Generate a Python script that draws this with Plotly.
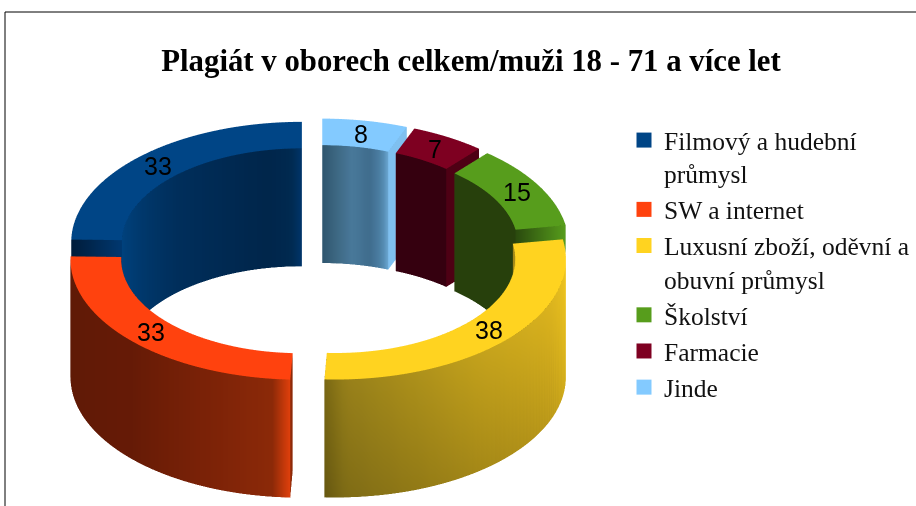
import numpy as np
import plotly.graph_objects as go

TITLE = "Plagiát v oborech celkem/muži 18 - 71 a více let"
CATEGORIES = ["Filmový a hudební<br>průmysl", "SW a internet",
              "Luxusní zboží, oděvní a<br>obuvní průmysl", "Školství", "Farmacie", "Jinde"]
VALUES = [33, 33, 38, 15, 7, 8]
COLORS = ["#004586", "#ff420e", "#ffd320", "#579d1c", "#7e0021", "#83caff"]

# wall shading per slice: (fraction along the slice, colour)
OUTER = [
    [(0, "#00264b"), (1, "#001c3a")],
    [(0, "#5e1a06"), (.5, "#661b06"), (.8, "#7f2408"), (.95, "#8c2a09"), (.985, "#c93a0b"), (1, "#e0400c")],
    [(0, "#7a6814"), (.05, "#97801a"), (.4, "#c4a21c"), (.7, "#dcb41e"), (.9, "#f5ca20"), (1, "#ffd320")],
    [(0, "#3a6a12"), (1, "#3a6a12")],
    [(0, "#4e0014"), (1, "#4e0014")],
    [(0, "#6aa7d2"), (1, "#6aa7d2")],
]
OUTER_FOOT = [1, 1, 0.84, 1, 1, 1]  # how much darker a wall gets at its foot
INNER = [
    [(0, "#00356a"), (.04, "#002a50"), (.12, "#00264b"), (.5, "#002f5c"), (.85, "#003f78"), (1, "#00437f")],
    [(0, "#a52f0a"), (1, "#a52f0a")],
    [(0, "#a58a18"), (1, "#a58a18")],
    [(0, "#27400c"), (1, "#27400c")],
    [(0, "#35000f"), (.85, "#35000f"), (1, "#35000f")],
    [(0, "#6aa7d2"), (.1, "#4f83a8"), (.3, "#3f6c8c"), (.55, "#4a7a9c"), (.8, "#3d6782"), (1, "#2f566f")],
]
CAP = [  # cap at the slice's first edge facing the viewer: (inner colour, outer colour)
    ("#003870", "#001c3a"), ("#8c2a09", "#8c2a09"), ("#6e5e12", "#6e5e12"),
    ("#2a4a0e", "#579d1c"), ("#4e0014", "#4e0014"), ("#7fc0f0", "#7fc0f0"),
]

R_IN, R_OUT, H, PULL, ELEV = 0.78, 1.0, 0.60, 0.10, np.radians(31.5)
SCALE = 3.06


def hx(c):
    return np.array([int(c[i:i + 2], 16) for i in (1, 3, 5)], float)


def shade(stops, t, f=1.0):
    ts = [s[0] for s in stops]
    cs = np.array([hx(s[1]) for s in stops])
    return "rgb(%d,%d,%d)" % tuple(np.interp(t, ts, cs[:, k]) * f for k in range(3))


def slice_mesh(a0, a1, top, outer, inner, cap, foot):
    X, Y, Z, C, I, J, K = [], [], [], [], [], [], []
    mid = (a0 + a1) / 2
    ox, oy = -np.sin(mid) * PULL, np.cos(mid) * PULL

    def quad(ps, cs):
        n = len(X)
        for p, c in zip(ps, cs):
            X.append(p[0] + ox); Y.append(p[1] + oy); Z.append(p[2]); C.append(c)
        I.extend([n, n]); J.extend([n + 1, n + 2]); K.extend([n + 2, n + 3])

    def pt(r, a, z):
        return (-np.sin(a) * r, np.cos(a) * r, z)

    n = max(8, int((a1 - a0) / np.radians(1.5)))
    for q in range(n):
        t0, t1 = q / n, (q + 1) / n
        b0, b1 = a0 + (a1 - a0) * t0, a0 + (a1 - a0) * t1
        quad([pt(R_IN, b0, H), pt(R_OUT, b0, H), pt(R_OUT, b1, H), pt(R_IN, b1, H)], [top] * 4)
        c0, c1 = shade(outer, t0), shade(outer, t1)
        d0, d1 = shade(outer, t0, foot), shade(outer, t1, foot + (1 - foot) * t1 ** 4)
        quad([pt(R_OUT, b0, H), pt(R_OUT, b1, H), pt(R_OUT, b1, 0), pt(R_OUT, b0, 0)], [c0, c1, d1, d0])
        c0, c1 = shade(inner, t0), shade(inner, t1)
        quad([pt(R_IN, b0, H), pt(R_IN, b1, H), pt(R_IN, b1, 0), pt(R_IN, b0, 0)], [c0, c1, c1, c0])
    for a, (ci, co) in ((a0, cap), (a1, cap)):
        quad([pt(R_IN, a, H), pt(R_OUT, a, H), pt(R_OUT, a, 0), pt(R_IN, a, 0)], [ci, co, co, ci])
    return go.Mesh3d(x=X, y=Y, z=Z, i=I, j=J, k=K, vertexcolor=C, hoverinfo="skip", showlegend=False,
                     flatshading=True,
                     lighting=dict(ambient=1, diffuse=0, specular=0, fresnel=0, roughness=1))


fig = go.Figure()
total = sum(VALUES)
edges = np.cumsum([0] + VALUES) / total * 2 * np.pi
notes = []
for k, v in enumerate(VALUES):
    a0, a1 = edges[k], edges[k + 1]
    fig.add_trace(slice_mesh(a0, a1, COLORS[k], OUTER[k], INNER[k], CAP[k], OUTER_FOOT[k]))
    mid = (a0 + a1) / 2
    r = (R_IN + R_OUT) / 2
    notes.append(dict(x=-np.sin(mid) * (r + PULL), y=np.cos(mid) * (r + PULL), z=H, text=str(v), showarrow=False,
                      font=dict(family="Liberation Sans", size=25, color="black")))

for name, color in zip(CATEGORIES, COLORS):
    fig.add_trace(go.Scatter(x=[None], y=[None], mode="markers", name=name, legendgroup=name,
                             marker=dict(symbol="square", size=15, color=color)))

fig.update_layout(
    width=916, height=506, margin=dict(l=0, r=0, t=0, b=0),
    paper_bgcolor="white", plot_bgcolor="rgba(0,0,0,0)",
    title=dict(text="<b>" + TITLE + "</b>", x=471 / 916, xanchor="center", y=1 - 60 / 506, yanchor="middle",
               font=dict(family="Liberation Serif", size=30.8, color="black")),
    xaxis=dict(visible=False), yaxis=dict(visible=False),
    legend=dict(x=624 / 916, xanchor="left", y=1 - 117 / 506, yanchor="top", tracegroupgap=0, valign="top",
                font=dict(family="Liberation Serif", size=25.5, color="#111111"), bgcolor="rgba(0,0,0,0)"),
    scene=dict(
        domain=dict(x=[0, 636 / 916], y=[0, 1 - 114 / 506]),
        xaxis=dict(visible=False, range=[-1.3, 1.3]),
        yaxis=dict(visible=False, range=[-1.3, 1.3]),
        zaxis=dict(visible=False, range=[0, H]),
        aspectmode="manual", aspectratio=dict(x=SCALE, y=SCALE, z=SCALE * H / 2.6),
        annotations=notes,
        camera=dict(projection=dict(type="orthographic"), up=dict(x=0, y=0, z=1), center=dict(x=0, y=0, z=0),
                    eye=dict(x=0, y=-np.cos(ELEV) * 2, z=np.sin(ELEV) * 2)),
    ),
    shapes=[
        dict(type="line", xref="paper", yref="paper", x0=5 / 916, x1=1, y0=1 - 12 / 506, y1=1 - 12 / 506,
             line=dict(color="black", width=1)),
        dict(type="line", xref="paper", yref="paper", x0=5 / 916, x1=5 / 916, y0=0, y1=1 - 12 / 506,
             line=dict(color="black", width=1)),
    ],
)
fig.write_html("out.html", config=dict(displayModeBar=False), post_script="document.body.style.margin='0';")
